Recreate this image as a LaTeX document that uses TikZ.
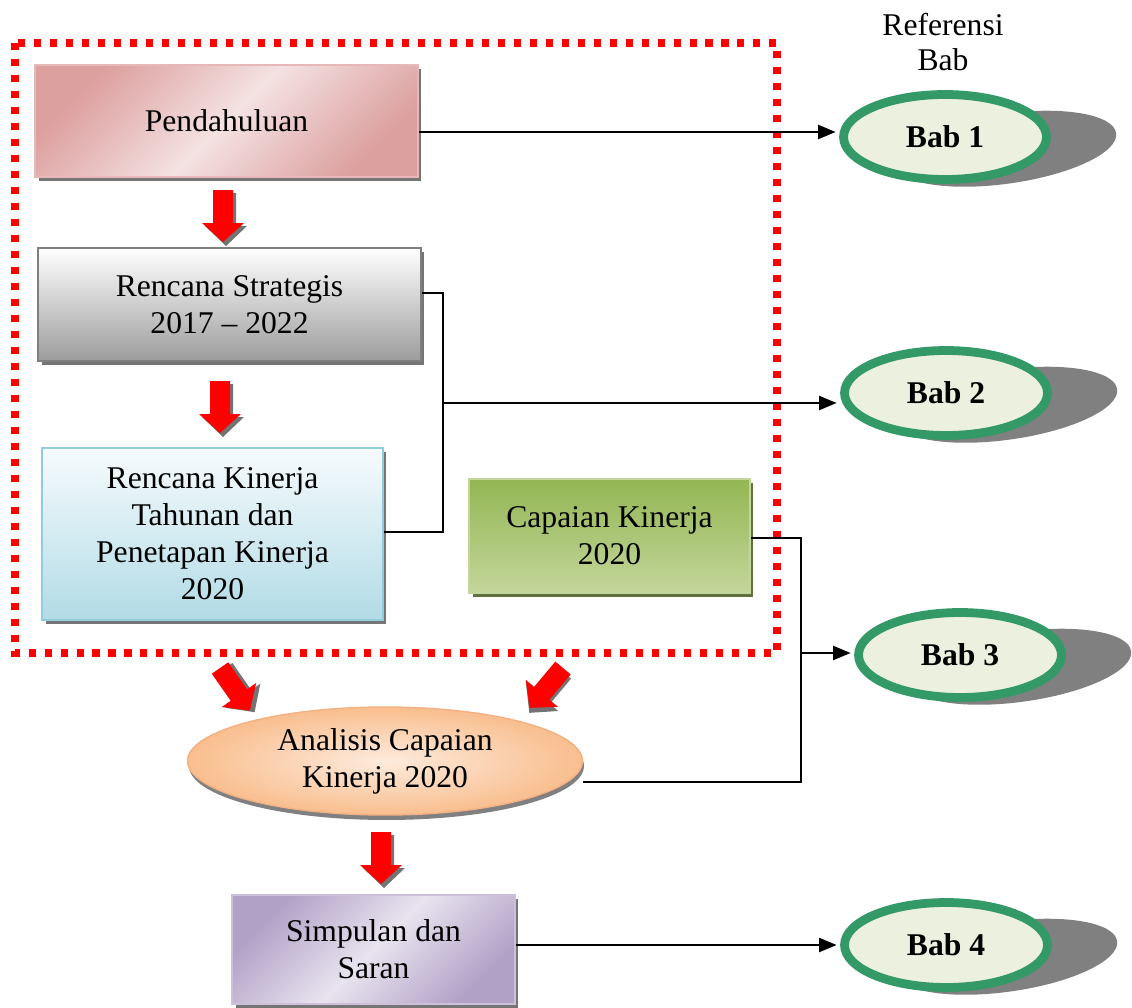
\documentclass[tikz,border=0pt]{standalone}
\usepackage{fontspec}
\setmainfont{Liberation Serif}
\usetikzlibrary{shapes.geometric,shadows,arrows.meta,calc}
\definecolor{pinkD}{HTML}{DCA09F}
\definecolor{pinkL}{HTML}{F4E2E2}
\definecolor{pinkB}{HTML}{E6B9B8}
\definecolor{greyB}{HTML}{7F7F7F}
\definecolor{greyD}{HTML}{9C9C9C}
\definecolor{blueB}{HTML}{92CDDC}
\definecolor{blueD}{HTML}{B2DBE6}
\definecolor{blueL}{HTML}{F6FBFD}
\definecolor{grnD}{HTML}{93B652}
\definecolor{grnL}{HTML}{C3D69B}
\definecolor{grnS}{HTML}{4F6228}
\definecolor{peachD}{HTML}{F9BE8E}
\definecolor{peachL}{HTML}{FDEBDD}
\definecolor{peachB}{HTML}{F4B183}
\definecolor{purD}{HTML}{B2A1C7}
\definecolor{purL}{HTML}{E8E3EF}
\definecolor{purB}{HTML}{CCC0DA}
\definecolor{babG}{HTML}{339966}
\definecolor{babF}{HTML}{EBF1DE}
\definecolor{dotred}{HTML}{FF0000}
\tikzset{
  txt/.style={font=\fontsize{18}{21}\selectfont, align=center, text=black},
  box/.style={rectangle, txt, inner sep=0pt},
  boxshadow/.style={drop shadow={shadow xshift=0.07cm, shadow yshift=-0.08cm, fill=black!60, opacity=0.9}},
  bab/.style={ellipse, draw=babG, line width=5pt, fill=babF, minimum width=4.06cm, minimum height=1.7cm,
    inner sep=0pt, font=\fontsize{18}{21}\selectfont\bfseries},
  babshadow/.style={fill=black!50},
  line/.style={draw=black, line width=1.2pt},
  conn/.style={line, -{Triangle[length=10pt,width=8pt]}},
  arrowshadow/.style={fill=black!55},
  redarrow/.pic={
    \fill[arrowshadow] (-7,3) -- (13,3) -- (13,36) -- (24,36) -- (3,56) -- (-18,36) -- (-7,36) -- cycle;
    \fill[dotred] (-10,0) -- (10,0) -- (10,33) -- (21,33) -- (0,52) -- (-21,33) -- (-10,33) -- cycle;
  }
}
\begin{document}
\begin{tikzpicture}[x=0.02cm,y=-0.02cm]
\path[use as bounding box, fill=white] (0,0) rectangle (1132,1007);

% dotted frame
\draw[dotred, line width=4pt, dash pattern=on 4pt off 5.1pt] (15,43) rectangle (777,653);

% boxes
\node[box, boxshadow, minimum width=7.66cm, minimum height=2.24cm, draw=pinkB, line width=0.8pt,
  top color=pinkD, bottom color=pinkD, middle color=pinkL, shading angle=45] (pend) at (226.5,121) {Pendahuluan};
\node[box, boxshadow, minimum width=7.66cm, minimum height=2.26cm, draw=greyB, line width=1.2pt,
  top color=white, bottom color=greyD] (rs) at (229.5,304.5) {Rencana Strategis\\2017 -- 2022};
\node[box, boxshadow, minimum width=6.82cm, minimum height=3.44cm, draw=blueB, line width=1.5pt,
  top color=blueL, bottom color=blueD] (rk) at (212.5,534) {Rencana Kinerja\\Tahunan dan\\Penetapan Kinerja\\2020};
\node[box, drop shadow={shadow xshift=0.07cm, shadow yshift=-0.08cm, fill=grnS, opacity=0.9},
  minimum width=5.62cm, minimum height=2.28cm, draw=grnL, line width=1.2pt,
  top color=grnD, bottom color=grnL] (ck) at (609.5,536) {Capaian Kinerja\\2020};
\node[ellipse, txt, inner sep=0pt, drop shadow={shadow xshift=0.03cm, shadow yshift=-0.1cm, fill=black!55, opacity=0.9},
  minimum width=7.9cm, minimum height=2.16cm, draw=peachB, line width=0.8pt,
  inner color=peachL, outer color=peachD] (an) at (385,761) {Analisis Capaian\\Kinerja 2020};
\node[box, boxshadow, minimum width=5.66cm, minimum height=2.18cm, draw=purB, line width=0.8pt,
  top color=purD, bottom color=purD, middle color=purL, shading angle=45] (simp) at (373.5,949.5) {Simpulan dan\\Saran};

% red block arrows
\pic at (223,190) {redarrow};
\pic at (220,381) {redarrow};
\pic[rotate=35] at (220,668) {redarrow};
\pic[rotate=-40] at (563,668) {redarrow};
\pic at (381,832) {redarrow};

% Bab ellipses with shadows
\coordinate (c1) at (945,137);
\coordinate (c2) at (946,393);
\coordinate (c3) at (960,655);
\coordinate (c4) at (946,945);
\foreach \c in {c1,c2,c3,c4}{
  \fill[babshadow, rotate around={8:($(\c)+(58,20)$)}] ($(\c)+(58,20)$) ellipse [x radius=112, y radius=35];
}
\node[bab] (b1) at (c1) {Bab 1};
\node[bab] (b2) at (c2) {Bab 2};
\node[bab] (b3) at (c3) {Bab 3};
\node[bab] (b4) at (c4) {Bab 4};

\node[txt, font=\fontsize{18}{20}\selectfont] (ref) at (943,42) {Referensi\\Bab};

% connectors
\draw[conn, shorten >=2pt] ([yshift=-0.22cm]pend.east) coordinate (p1) -- (p1 -| b1.west);
\coordinate (j2) at (443,403);
\draw[line] ([yshift=0.23cm]rs.east) -| (j2) |- ([yshift=0.04cm]rk.east);
\draw[conn, shorten >=2pt] (j2) -- (j2 -| b2.west);
\coordinate (j3) at (801,653);
\draw[line] ([yshift=-0.04cm]ck.east) -| (j3) |- ([yshift=-0.42cm]an.east);
\draw[conn, shorten >=2pt] (j3) -- (j3 -| b3.west);
\draw[conn, shorten >=2pt] ([yshift=0.09cm]simp.east) coordinate (p4) -- (p4 -| b4.west);
\end{tikzpicture}
\end{document}
